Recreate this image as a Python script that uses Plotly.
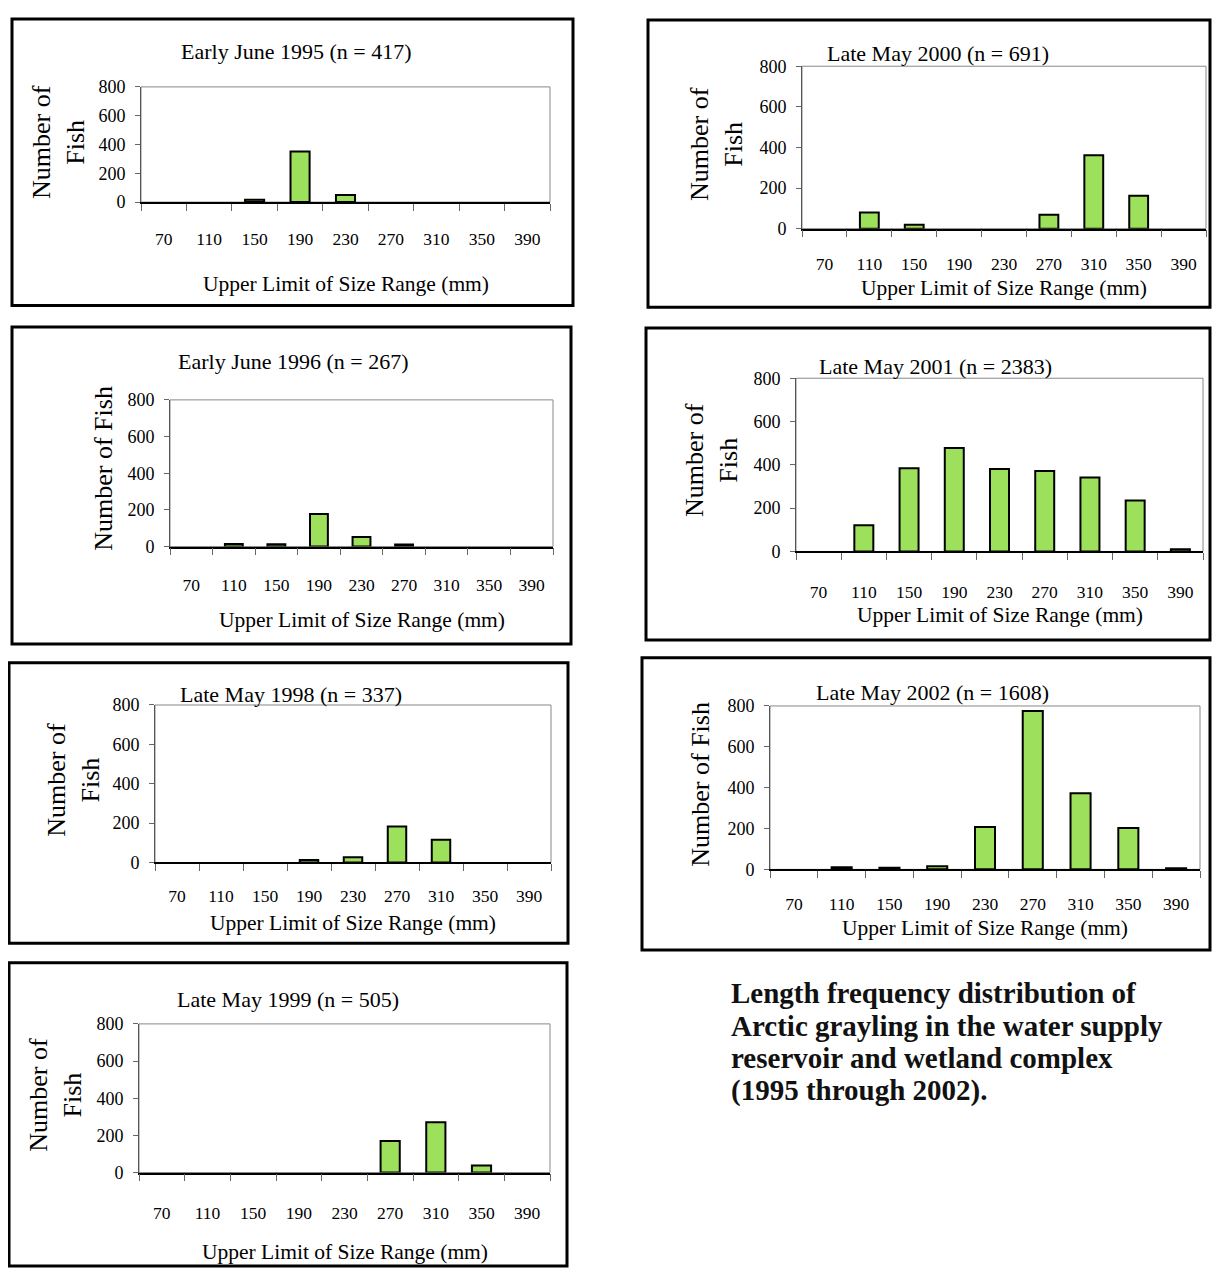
import plotly.graph_objects as go

# The page body adds an 8px margin, so the figure is sized to fit the window exactly
PAGE_W, PAGE_H, BODY_MARGIN = 1220, 1285, 8
W, H = PAGE_W - 2 * BODY_MARGIN, PAGE_H - 2 * BODY_MARGIN

categories = ["70", "110", "150", "190", "230", "270", "310", "350", "390"]
y_ticks = [0, 200, 400, 600, 800]

vals_1995 = [0, 0, 16, 352, 49, 0, 0, 0, 0]
vals_1996 = [0, 14, 12, 178, 52, 11, 0, 0, 0]
vals_1998 = [0, 0, 0, 12, 27, 183, 115, 0, 0]
vals_1999 = [0, 0, 0, 0, 0, 170, 270, 38, 0]
vals_2000 = [0, 80, 19, 0, 0, 68, 362, 162, 0]
vals_2001 = [0, 121, 384, 478, 381, 372, 342, 235, 10]
vals_2002 = [0, 10, 8, 15, 208, 775, 373, 203, 6]

titles = [
    "Early June 1995 (n = 417)",
    "Early June 1996 (n = 267)",
    "Late May 1998 (n = 337)",
    "Late May 1999 (n = 505)",
    "Late May 2000 (n = 691)",
    "Late May 2001 (n = 2383)",
    "Late May 2002 (n = 1608)",
]
series = [vals_1995, vals_1996, vals_1998, vals_1999, vals_2000, vals_2001, vals_2002]
ytitles = ["Number of<br>Fish", "Number of Fish", "Number of<br>Fish", "Number of<br>Fish",
           "Number of<br>Fish", "Number of<br>Fish", "Number of Fish"]
xtitle = "Upper Limit of Size Range (mm)"
caption_lines = [
    "Length frequency distribution of",
    "Arctic grayling in the water supply",
    "reservoir and wetland complex",
    "(1995 through 2002).",
]

# layout geometry in page pixels
panels = [
    dict(box=(12, 9, 573, 300), plot=(141, 78, 550, 195), t=(296, 42), yt=(58, 134), xt=278, so=20),
    dict(box=(12, 322, 571, 644), plot=(170, 396, 553, 545), t=(293, 357), yt=(104, 466), xt=620, so=22),
    dict(box=(9, 663, 568, 948), plot=(155, 706, 551, 866), t=(291, 695), yt=(74, 782), xt=927, so=17),
    dict(box=(9, 968, 567, 1276), plot=(139, 1030, 550, 1181), t=(288, 1005), yt=(56, 1102), xt=1262, so=24),
    dict(box=(648, 10, 1210, 302), plot=(802, 57, 1206, 222), t=(938, 44), yt=(717, 136), xt=282, so=19),
    dict(box=(646, 323, 1210, 640), plot=(796, 374, 1203, 550), t=(935, 362), yt=(712, 457), xt=615, so=24),
    dict(box=(642, 658, 1210, 955), plot=(770, 707, 1200, 873), t=(932, 693), yt=(701, 787), xt=933, so=18),
]

FONT = "Liberation Serif, Times New Roman, serif"
GREEN = "#9de05c"

def px(x):
    return (x - BODY_MARGIN) / W

def py(y):
    return 1 - (y - BODY_MARGIN) / H

fig = go.Figure()
layout = dict(
    width=W, height=H, margin=dict(l=0, r=0, t=0, b=0),
    paper_bgcolor="white", plot_bgcolor="white", showlegend=False,
    font=dict(family=FONT, color="black"), bargap=0.58,
)
shapes, annotations = [], []

for i, (p, vals) in enumerate(zip(panels, series)):
    n = "" if i == 0 else str(i + 1)
    xa, ya = "x" + n, "y" + n
    fig.add_trace(go.Bar(
        x=categories, y=[v if v > 0 else None for v in vals], xaxis=xa, yaxis=ya,
        marker=dict(color=GREEN, line=dict(color="black", width=2)),
        hoverinfo="x+y",
    ))
    x0, y0, x1, y1 = p["plot"]
    layout["xaxis" + n] = dict(
        domain=[px(x0), px(x1)], anchor=ya, type="category",
        categoryorder="array", categoryarray=categories,
        showgrid=False, zeroline=False, showline=True, linecolor="black", linewidth=1.5,
        ticks="outside", tickson="boundaries", ticklen=7, tickcolor="#666", tickwidth=1,
        tickfont=dict(size=17.5, family=FONT), ticklabelstandoff=p["so"],
        fixedrange=True,
    )
    layout["yaxis" + n] = dict(
        domain=[py(y1), py(y0)], anchor=xa, range=[0, 800], tickvals=y_ticks,
        showgrid=False, zeroline=False, showline=True, linecolor="#555", linewidth=1,
        ticks="outside", ticklen=5, tickcolor="#666",
        tickfont=dict(size=18, family=FONT), ticklabelstandoff=6,
        fixedrange=True,
    )
    shapes.append(dict(type="rect", xref=xa + " domain", yref=ya + " domain",
                       x0=0, x1=1, y0=0, y1=1, line=dict(color="#888", width=1), layer="below"))
    bx0, by0, bx1, by1 = p["box"]
    shapes.append(dict(type="rect", xref="paper", yref="paper",
                       x0=px(bx0), x1=px(bx1), y0=py(by1), y1=py(by0),
                       line=dict(color="black", width=3)))
    annotations.append(dict(text=titles[i], xref="paper", yref="paper",
                            x=px(p["t"][0]), y=py(p["t"][1]), showarrow=False,
                            xanchor="center", yanchor="middle",
                            font=dict(size=22, family=FONT)))
    annotations.append(dict(text=ytitles[i], xref="paper", yref="paper",
                            x=px(p["yt"][0]), y=py(p["yt"][1]), showarrow=False,
                            textangle=-90, xanchor="center", yanchor="middle",
                            font=dict(size=26, family=FONT)))
    annotations.append(dict(text=xtitle, xref="paper", yref="paper",
                            x=px((x0 + x1) / 2), y=py(p["xt"]), showarrow=False,
                            xanchor="center", yanchor="middle",
                            font=dict(size=21.5, family=FONT)))

cap_y = [999, 1032, 1065, 1098]
for line, yy in zip(caption_lines, cap_y):
    annotations.append(dict(text="<b>" + line + "</b>", xref="paper", yref="paper",
                            x=px(729), y=py(yy), showarrow=False,
                            xanchor="left", yanchor="middle",
                            font=dict(size=29, family=FONT, color="#111")))

layout["shapes"] = shapes
layout["annotations"] = annotations
fig.update_layout(**layout)
fig.write_html("out.html")
